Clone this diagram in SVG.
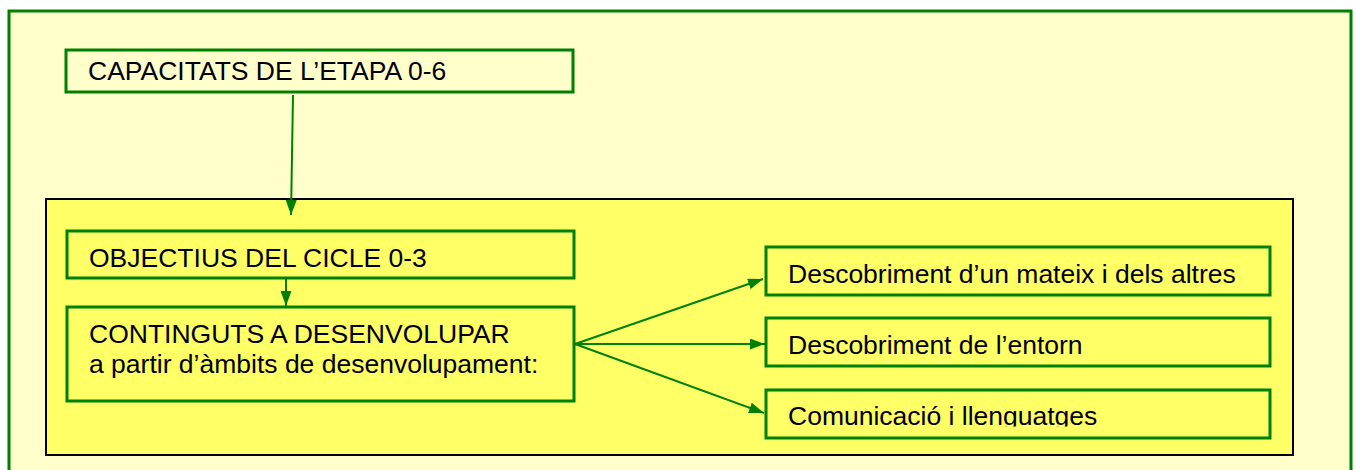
<svg xmlns="http://www.w3.org/2000/svg" width="1356" height="470" viewBox="0 0 1356 470">
<style>
.t{font-family:"Liberation Sans",Arial,sans-serif;font-size:26.5px;fill:#000}
.gb{fill:#FFFF66;stroke:#008000;stroke-width:3}
.cn{stroke:#008000;stroke-width:2;fill:none}
</style>
<defs>
<marker id="ah" viewBox="0 0 15 11" refX="15" refY="5.5" markerWidth="15" markerHeight="11" markerUnits="userSpaceOnUse" orient="auto">
<path d="M0,0 L15,5.5 L0,11 Z" fill="#008000"/>
</marker>
<clipPath id="c3"><rect x="766" y="390" width="504" height="36.5"/></clipPath>
</defs>
<rect x="0" y="0" width="1356" height="470" fill="#fff"/>
<rect id="frame" x="9" y="11" width="1342" height="470" fill="#FFFFCC" stroke="#008000" stroke-width="3"/>
<g id="n-capacitats">
<rect x="66" y="50" width="507" height="42" fill="#FFFFCC" stroke="#008000" stroke-width="3"/>
<text class="t" x="88" y="80">CAPACITATS DE L’ETAPA 0-6</text>
</g>
<g id="n-group">
<rect x="46" y="199" width="1247" height="256" fill="#FFFF66" stroke="#000" stroke-width="2"/>
</g>
<g id="n-objectius">
<rect class="gb" x="67" y="231" width="507" height="47"/>
<text class="t" x="89" y="267">OBJECTIUS DEL CICLE 0-3</text>
</g>
<g id="n-continguts">
<rect class="gb" x="67" y="307" width="507" height="94"/>
<text class="t" x="89" y="343">CONTINGUTS A DESENVOLUPAR</text>
<text class="t" x="89" y="373">a partir d’àmbits de desenvolupament:</text>
</g>
<g id="n-d1">
<rect class="gb" x="766" y="247" width="504" height="48"/>
<text class="t" x="788" y="283">Descobriment d’un mateix i dels altres</text>
</g>
<g id="n-d2">
<rect class="gb" x="766" y="318" width="504" height="48"/>
<text class="t" x="788" y="354">Descobriment de l’entorn</text>
</g>
<g id="n-d3">
<rect class="gb" x="766" y="390" width="504" height="48"/>
<text class="t" x="788" y="425" clip-path="url(#c3)">Comunicació i llenguatges</text>
</g>
<g id="connectors">
<line class="cn" x1="293" y1="95" x2="291" y2="215" marker-end="url(#ah)"/>
<line class="cn" x1="286" y1="279" x2="286" y2="306" marker-end="url(#ah)"/>
<line class="cn" x1="575" y1="344" x2="763" y2="279" marker-end="url(#ah)"/>
<line class="cn" x1="575" y1="344" x2="765" y2="344" marker-end="url(#ah)"/>
<line class="cn" x1="575" y1="344" x2="764" y2="413" marker-end="url(#ah)"/>
</g>
</svg>
